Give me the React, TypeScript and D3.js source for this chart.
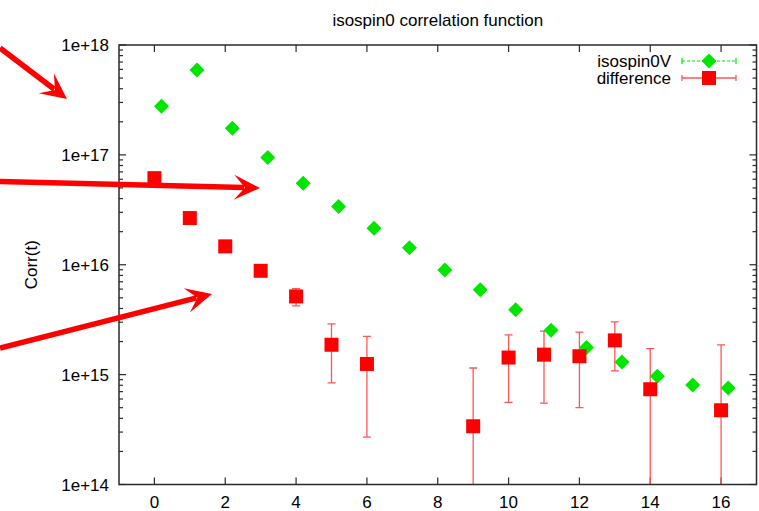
import React from "react";
import * as d3 from "d3";

// time slices
const tValues = d3.range(0, 17);

// isospin0V correlator (plotted with a small x offset)
const isoV = [
   2.77e17, 5.93e17, 1.75e17, 9.47e16, 5.53e16, 3.39e16, 2.15e16, 1.43e16,
   8.96e15, 5.93e15, 3.9e15, 2.53e15, 1.77e15, 1.3e15, 9.66e14, 8.06e14, 7.57e14,
];
const isoOffset = 0.2;

// difference, with symmetric errors (null = not shown on log scale)
const diff: (number | null)[] = [
   6.14e16, 2.66e16, 1.47e16, 8.81e15, 5.15e15, 1.87e15, 1.25e15, null, null,
   3.39e14, 1.43e15, 1.52e15, 1.47e15, 2.05e15, 7.36e14, null, 4.74e14,
];
const diffErr = [
   3e15, 1.5e15, 8e14, 5e14, 9.2e14, 1.03e15, 9.8e14, 0, 0, 8.1e14, 8.7e14,
   9.7e14, 9.7e14, 9.7e14, 9.9e14, 0, 1.39e15,
];

const xTicks = [0, 2, 4, 6, 8, 10, 12, 14, 16];
const yMajor = [1e14, 1e15, 1e16, 1e17, 1e18];

// hand-drawn annotation arrows: [x0, y0, tipX, tipY]
const arrows = [
   [0, 48, 67, 99],
   [0, 181.5, 260, 188],
   [0, 348, 212, 294],
];

const W = 759;
const H = 511;
const margin = { left: 119, right: 2.5, top: 45, bottom: 26.5 };
const font = "Liberation Sans, Arial, Helvetica, sans-serif";
const green = "#00e600";
const red = "#ff0000";
const errColor = "#ff5555";
const axisColor = "#2a2a2a";

const arrowHead = (a: number[]) => {
   const [x0, y0, x1, y1] = a;
   const len = Math.hypot(x1 - x0, y1 - y0);
   const ux = (x1 - x0) / len;
   const uy = (y1 - y0) / len;
   const px = -uy;
   const py = ux;
   const back = 26;
   const half = 12.5;
   const notch = 15;
   const bx = x1 - ux * back;
   const by = y1 - uy * back;
   const pts = [
      [x1, y1],
      [bx + px * half, by + py * half],
      [x1 - ux * notch, y1 - uy * notch],
      [bx - px * half, by - py * half],
   ];
   return { pts, shaftEnd: [x1 - ux * (notch + 1), y1 - uy * (notch + 1)] };
};

export default function App() {
   const x = d3
      .scaleLinear()
      .domain([-1, 17])
      .range([margin.left, W - margin.right]);
   const y = d3
      .scaleLog()
      .domain([1e14, 1e18])
      .range([H - margin.bottom, margin.top]);

   const [x0, x1] = x.range();
   const [yb, yt] = y.range();

   const minor: number[] = [];
   yMajor.slice(0, -1).forEach((d) => {
      for (let k = 2; k <= 9; k++) minor.push(d * k);
   });

   const sq = 7;
   const dm = 7.5;
   const cap = 4;

   const diamond = (cx: number, cy: number) =>
      `M${cx},${cy - dm}L${cx + dm},${cy}L${cx},${cy + dm}L${cx - dm},${cy}Z`;

   return (
      <svg
         width={W}
         height={H}
         style={{ position: "absolute", left: 0, top: 0, background: "#fff" }}
         fontFamily={font}
      >
         <defs>
            <clipPath id="plot">
               <rect x={x0} y={yt} width={x1 - x0} height={yb - yt} />
            </clipPath>
         </defs>

         {/* title */}
         <text x={(x0 + x1) / 2} y={26} fontSize={17} textAnchor="middle" fill="#000">
            isospin0 correlation function
         </text>

         {/* y label */}
         <text
            transform={`translate(37, ${(yt + yb) / 2}) rotate(-90)`}
            fontSize={17}
            textAnchor="middle"
            fill="#000"
         >
            Corr(t)
         </text>

         {/* y ticks */}
         {yMajor.map((d) => (
            <g key={"ym" + d}>
               <line x1={x0} x2={x0 + 7} y1={y(d)} y2={y(d)} stroke={axisColor} strokeWidth={1.2} />
               <line x1={x1} x2={x1 - 7} y1={y(d)} y2={y(d)} stroke={axisColor} strokeWidth={1.2} />
               <text x={x0 - 10} y={y(d) + 6} fontSize={17} textAnchor="end" fill="#000">
                  {"1e+" + Math.round(Math.log10(d))}
               </text>
            </g>
         ))}
         {minor.map((d) => (
            <g key={"yn" + d}>
               <line x1={x0} x2={x0 + 4} y1={y(d)} y2={y(d)} stroke={axisColor} strokeWidth={1.2} />
               <line x1={x1} x2={x1 - 4} y1={y(d)} y2={y(d)} stroke={axisColor} strokeWidth={1.2} />
            </g>
         ))}

         {/* x ticks */}
         {xTicks.map((d) => (
            <g key={"x" + d}>
               <line x1={x(d)} x2={x(d)} y1={yb} y2={yb - 7} stroke={axisColor} strokeWidth={1.2} />
               <line x1={x(d)} x2={x(d)} y1={yt} y2={yt + 7} stroke={axisColor} strokeWidth={1.2} />
               <text x={x(d)} y={508} fontSize={17} textAnchor="middle" fill="#000">
                  {d}
               </text>
            </g>
         ))}

         {/* data */}
         <g clipPath="url(#plot)">
            {tValues.map((t, i) => {
               const v = diff[i];
               if (v === null || diffErr[i] === 0) return null;
               const hi = v + diffErr[i];
               const lo = v - diffErr[i];
               const yHi = y(hi);
               const yLo = lo > 0 ? y(lo) : yb + 5;
               const cx = x(t);
               return (
                  <g key={"e" + t} stroke={errColor} strokeWidth={1.3}>
                     <line x1={cx} x2={cx} y1={yHi} y2={yLo} />
                     <line x1={cx - cap} x2={cx + cap} y1={yHi} y2={yHi} />
                     {lo > 0 && <line x1={cx - cap} x2={cx + cap} y1={yLo} y2={yLo} />}
                  </g>
               );
            })}
            {tValues.map((t, i) => (
               <path key={"g" + t} d={diamond(x(t + isoOffset), y(isoV[i]))} fill={green} />
            ))}
            {tValues.map((t, i) => {
               const v = diff[i];
               if (v === null) return null;
               return (
                  <rect key={"r" + t} x={x(t) - sq} y={y(v) - sq} width={sq * 2} height={sq * 2} fill={red} />
               );
            })}
         </g>

         {/* legend */}
         <g fontSize={17} fill="#000">
            <text x={671} y={67} textAnchor="end">isospin0V</text>
            <text x={671} y={84} textAnchor="end">difference</text>
         </g>
         <g stroke={green} strokeWidth={1.2}>
            <line x1={682} x2={736} y1={61} y2={61} strokeDasharray="3,2" />
            <line x1={682} x2={682} y1={58} y2={64} />
            <line x1={736} x2={736} y1={58} y2={64} />
         </g>
         <path d={diamond(709, 61)} fill={green} />
         <g stroke={errColor} strokeWidth={1.3}>
            <line x1={682} x2={736} y1={78} y2={78} />
            <line x1={682} x2={682} y1={75} y2={81} />
            <line x1={736} x2={736} y1={75} y2={81} />
         </g>
         <rect x={709 - sq} y={78 - sq} width={sq * 2} height={sq * 2} fill={red} />

         {/* border */}
         <rect x={x0} y={yt} width={x1 - x0} height={yb - yt} fill="none" stroke={axisColor} strokeWidth={1.5} />

         {/* annotation arrows */}
         {arrows.map((a, i) => {
            const h = arrowHead(a);
            return (
               <g key={"a" + i}>
                  <line x1={a[0]} y1={a[1]} x2={h.shaftEnd[0]} y2={h.shaftEnd[1]} stroke={red} strokeWidth={5.5} />
                  <polygon points={h.pts.map((p) => p.join(",")).join(" ")} fill={red} />
               </g>
            );
         })}
      </svg>
   );
}
